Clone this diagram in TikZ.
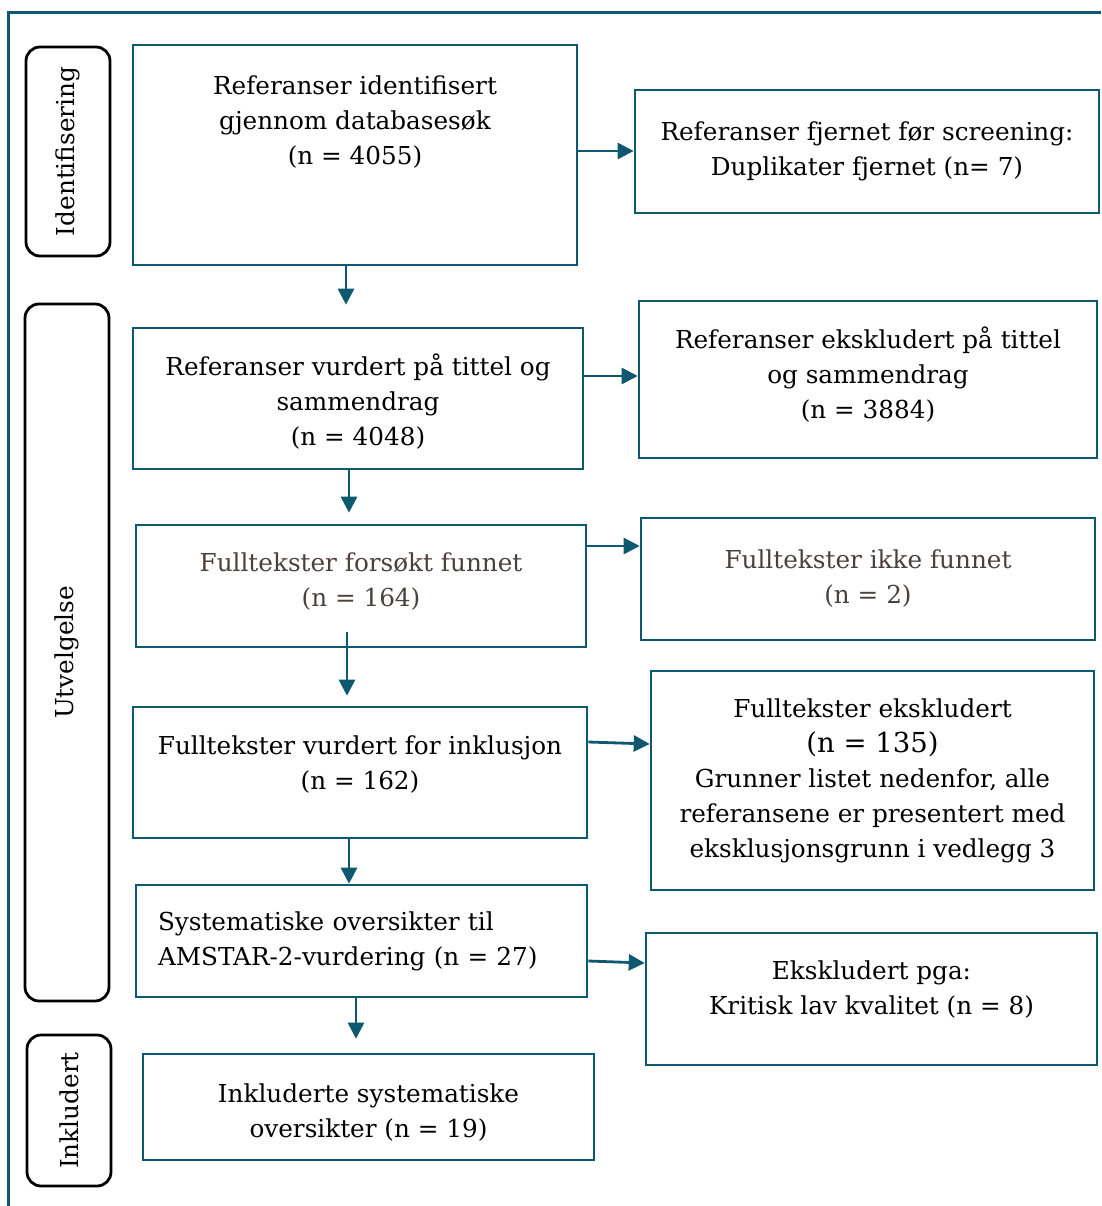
\documentclass[tikz,border=0pt]{standalone}
\usepackage{fontspec}
\setmainfont{DejaVu Serif}
\usetikzlibrary{arrows.meta}
\definecolor{pteal}{RGB}{14,88,112}
\definecolor{pgray}{RGB}{75,65,60}
\newcommand\boxfont{\fontsize{24.7}{35}\selectfont}
\newcommand\dn[1]{\rule[-#1pt]{0pt}{#1pt}}
\newcommand\up[1]{\rule{0pt}{#1pt}}
\begin{document}
\begin{tikzpicture}[x=1pt,y=-1pt,
  box/.style={draw=pteal, line width=2.6pt, rectangle, inner sep=0pt, align=center, font=\boxfont},
  side/.style={draw=black, line width=2.8pt, rounded corners=14pt, inner sep=0pt, rotate=90, font=\boxfont},
  arr/.style={draw=pteal, line width=2.8pt, -{Triangle[length=16pt,width=16pt]}},
  frame/.style={draw=pteal, line width=2.4pt}
]
\useasboundingbox (0,0) rectangle (1101,1206);
\draw[frame] (1101,12.5) -- (8.5,12.5) -- (8.5,1206);

% side labels
\node[side, minimum width=209pt, minimum height=84pt] (S1) at (68,151.5) {Identifisering};
\node[side, minimum width=697pt, minimum height=84pt] (S2) at (67,652.5) {Utvelgelse};
\node[side, minimum width=151pt, minimum height=84pt] (S3) at (69,1110.5) {Inkludert};

% boxes
\node[box, minimum width=444pt, minimum height=220pt] (A) at (355,155) {Referanser identifisert\\gjennom databasesøk\\(n = 4055)\\\mbox{}\\\mbox{}};
\node[box, minimum width=464pt, minimum height=123pt] (B) at (867,151.5) {Referanser fjernet før screening:\\Duplikater fjernet (n= 7)};
\node[box, minimum width=450pt, minimum height=141pt] (C) at (358,398.5) {\up{27}Referanser vurdert på tittel og\\sammendrag\\(n = 4048)};
\node[box, minimum width=458pt, minimum height=157pt] (D) at (868,379.5) {Referanser ekskludert på tittel\\og sammendrag\\(n = 3884)\dn{14}};
\node[box, minimum width=450pt, minimum height=122pt, text=pgray] (E) at (361,586) {Fulltekster forsøkt funnet\\(n = 164)\dn{12}};
\node[box, minimum width=454pt, minimum height=122pt, text=pgray] (F) at (868,579) {Fulltekster ikke funnet\\(n = 2)};
\node[box, minimum width=454pt, minimum height=131pt] (G) at (360,772.5) {Fulltekster vurdert for inklusjon\\(n = 162)\dn{19}};
\node[box, minimum width=443pt, minimum height=219pt] (H) at (872.5,780.5) {Fulltekster ekskludert\\{\fontsize{27.5}{35}\selectfont(n = 135)}\\Grunner listet nedenfor, alle\\referansene er presentert med\\eksklusjonsgrunn i vedlegg 3};
\node[box, minimum height=112pt, text width=407pt, inner xsep=22pt, align=left] (I) at (361.5,941) {Systematiske oversikter til\\AMSTAR-2-vurdering (n = 27)};
\node[box, minimum width=451pt, minimum height=132pt] (J) at (871.5,999) {Ekskludert pga:\\Kritisk lav kvalitet (n = 8)\dn{22}};
\node[box, minimum width=451pt, minimum height=106pt] (K) at (368.5,1107) {\up{29}Inkluderte systematiske\\oversikter (n = 19)};

% connectors
\draw[arr] (A.east |- 0,151) -- (B.west |- 0,151);
\draw[arr, shorten >=22pt] (A.south -| 346,0) -- (C.north -| 346,0);
\draw[arr] (C.east |- 0,376) -- (D.west |- 0,376);
\draw[arr, shorten >=11pt] (C.south -| 349,0) -- (E.north -| 349,0);
\draw[arr] (E.east |- 0,546) -- (F.west |- 0,546);
\draw[arr, shorten >=10pt] ([yshift=16pt]E.south -| 347,0) -- (G.north -| 347,0);
\draw[arr] (G.east |- 0,742) -- (H.west |- 0,744);
\draw[arr] (G.south -| 349,0) -- (I.north -| 349,0);
\draw[arr] (I.east |- 0,961) -- (J.west |- 0,963);
\draw[arr, shorten >=14pt] (I.south -| 356,0) -- (K.north -| 356,0);
\end{tikzpicture}
\end{document}
